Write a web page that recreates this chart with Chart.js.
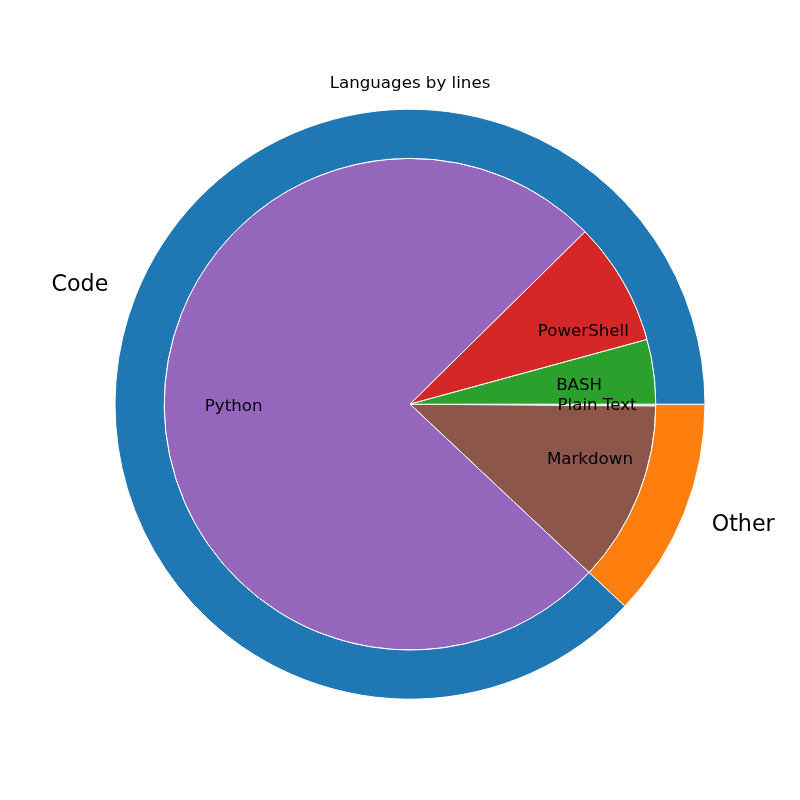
<!DOCTYPE html>
<html>
<head>
<meta charset="utf-8">
<script src="https://cdn.jsdelivr.net/npm/chart.js@4/dist/chart.umd.min.js"></script>
<style>
html,body{margin:0;padding:0;background:#fff;}
#wrap{width:800px;height:800px;position:relative;}
</style>
</head>
<body>
<div id="wrap"><canvas id="c" width="800" height="800"></canvas></div>
<script>
// Data (matplotlib order: counterclockwise from 3 o'clock)
const innerLabels = ['BASH', 'PowerShell', 'Python', 'Markdown', 'Plain Text'];
const innerLines  = [424, 814, 7561, 1189, 12];
const innerColors = ['#2ca02c', '#d62728', '#9467bd', '#8c564b', '#e377c2'];
const outerLabels = ['Code', 'Other'];
const outerLines  = [8799, 1201];
const outerColors = ['#1f77b4', '#ff7f0e'];
const titleText = 'Languages by lines';

// Chart.js draws clockwise, so reverse to mimic counterclockwise order
const rev = a => a.slice().reverse();

const labelPlugin = {
  id: 'sliceLabels',
  afterDatasetsDraw(chart) {
    const ctx = chart.ctx;
    const specs = [
      {ds: 0, dist: 1.1, size: 22.2},
      {ds: 1, dist: 0.6, size: 16.67}
    ];
    specs.forEach(s => {
      const meta = chart.getDatasetMeta(s.ds);
      const labels = chart.data.datasets[s.ds].sliceLabels;
      meta.data.forEach((arc, i) => {
        const p = arc.getProps(['x', 'y', 'startAngle', 'endAngle', 'outerRadius'], true);
        const mid = (p.startAngle + p.endAngle) / 2;
        const tx = p.x + Math.cos(mid) * p.outerRadius * s.dist;
        const ty = p.y + Math.sin(mid) * p.outerRadius * s.dist + 1;
        ctx.save();
        ctx.font = s.size + 'px "DejaVu Sans"';
        ctx.fillStyle = '#000';
        ctx.textAlign = tx > p.x ? 'left' : 'right';
        ctx.textBaseline = 'middle';
        ctx.fillText(labels[i], tx, ty);
        ctx.restore();
      });
    });
  }
};

new Chart(document.getElementById('c'), {
  type: 'pie',
  data: {
    labels: rev(innerLabels),
    datasets: [
      {
        data: rev(outerLines),
        backgroundColor: rev(outerColors),
        sliceLabels: rev(outerLabels),
        borderColor: '#ffffff',
        borderWidth: 1,
        weight: 1
      },
      {
        data: rev(innerLines),
        backgroundColor: rev(innerColors),
        sliceLabels: rev(innerLabels),
        borderColor: '#ffffff',
        borderWidth: 1,
        weight: 5
      }
    ]
  },
  options: {
    responsive: false,
    animation: false,
    devicePixelRatio: 1,
    rotation: 90,
    radius: 295,
    layout: {padding: {left: 20, right: 0, top: 0, bottom: 85}},
    plugins: {
      legend: {display: false},
      tooltip: {enabled: false},
      title: {
        display: true,
        text: titleText,
        color: '#000',
        font: {family: 'DejaVu Sans', size: 16.67, weight: 'normal', lineHeight: 1.2},
        padding: {top: 73.4, bottom: 0}
      }
    }
  },
  plugins: [labelPlugin]
});
</script>
</body>
</html>
